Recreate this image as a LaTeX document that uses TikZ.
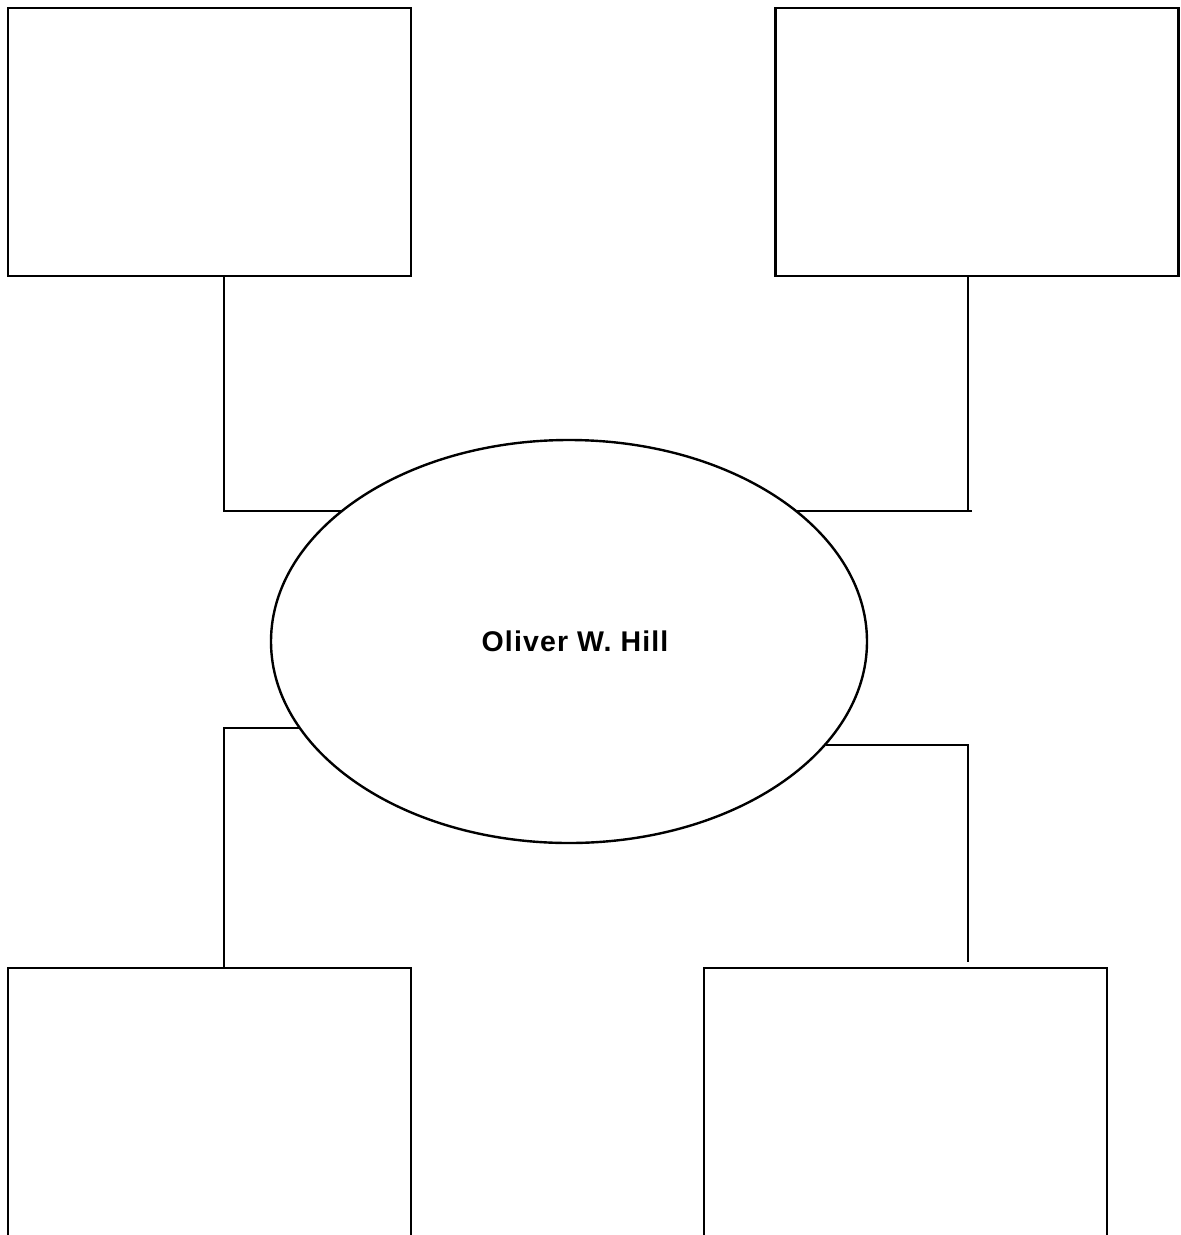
\documentclass[tikz,border=0pt]{standalone}
\usepackage{fontspec}
\setmainfont{Liberation Sans}
\usetikzlibrary{shapes.geometric}

\tikzset{
    factbox/.style={draw, line width=2.6pt, minimum width=403pt, minimum height=268pt, inner sep=0pt},
    lowbox/.style={factbox, minimum height=320pt},
    link/.style={line width=2.6pt},
}

\begin{document}
\begin{tikzpicture}[x=1pt, y=-1pt]
        \useasboundingbox (0,0) rectangle (1181,1235);
        \clip (0,0) rectangle (1181,1235);

        \node[factbox] (tl) at (209.5,142) {};
        \node[factbox] (tr) at (977,142) {};
        \node[lowbox] (bl) at (209.5,1128) {};
        \node[lowbox] (br) at (905.5,1128) {};

        \node[ellipse, draw, line width=2.4pt, minimum width=596pt, minimum height=403pt, inner sep=0pt,
              font=\fontsize{28.5}{34}\selectfont\bfseries\addfontfeatures{LetterSpace=4}] (hill) at (569,641.5) {\hspace{12pt}Oliver W. Hill};

        \coordinate (tlbend) at (224,511);
        \coordinate (trbend) at (968,511);
        \coordinate (blbend) at (224,728);
        \coordinate (brend) at (968,962);

        \draw[link] (tl.south -| tlbend) -- (tlbend) -- (hill.150 |- tlbend);
        \draw[link] (tr.south -| trbend) -- (trbend);
        \draw[link] ([xshift=4pt]trbend) -- (hill.30 |- trbend);
        \draw[link] (bl.north -| blbend) -- (blbend) -- (hill.198 |- blbend);
        \draw[link] (hill.338 |- brend |- 0,745) -| (brend);
\end{tikzpicture}
\end{document}
